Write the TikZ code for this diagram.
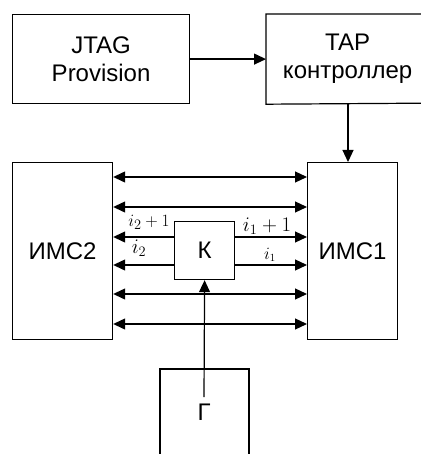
\documentclass[tikz,border=0pt]{standalone}
\usepackage{fontspec}
\setmainfont{Liberation Sans}
\usetikzlibrary{arrows.meta}
\begin{document}
\begin{tikzpicture}[x=1pt,y=-1pt,
  box/.style={draw,line width=1.2pt,anchor=north west,inner sep=0pt,align=center,
    font=\fontsize{24}{28}\selectfont},
  conn/.style={line width=1.2pt,-{Triangle[length=12pt,width=11pt]}},
  biconn/.style={line width=1.2pt,{Triangle[length=12pt,width=11pt]}-{Triangle[length=12pt,width=11pt]}},
  lbl/.style={anchor=base,inner sep=0pt}]
\useasboundingbox (0,0) rectangle (420,454);
\node[box,minimum width=177pt,minimum height=89pt] (jtag) at (12,14) {JTAG\\Provision};
\node[box,draw=none,minimum width=162pt,minimum height=89pt] (tap) at (266,14) {TAP\\контроллер};
\draw[line width=1.2pt] (450,14) -- (tap.north west) -- (tap.south west) -- (450,103);
\node[box,minimum width=100pt,minimum height=177pt] (ims2) at (12,162) {ИМС2};
\node[box,minimum width=90pt,minimum height=177pt] (ims1) at (307,162) {ИМС1};
\node[box,minimum width=60pt,minimum height=58pt] (k) at (174,221) {К};
\node[font=\fontsize{24}{28}\selectfont,inner sep=0pt] (g) at (204,412) {Г};
\draw[line width=1.2pt] (160,470) -- (160,369) -- (249,369) -- (249,470);
\coordinate (gtop) at (204,397);
\draw[conn] (jtag.east) -- (tap.west);
\draw[conn] (tap.south -| 348,0) -- (ims1.north -| 348,0);
\foreach \y in {177,207,294,324}{
  \draw[biconn] (ims2.east |- 0,\y) -- (ims1.west |- 0,\y);
}
\foreach \y in {237,265}{
  \draw[conn] (k.west |- 0,\y) -- (ims2.east |- 0,\y);
  \draw[conn] (k.east |- 0,\y) -- (ims1.west |- 0,\y);
}
\draw[conn] (gtop) -- (k.south);
\node[lbl,font=\fontsize{19}{19}\selectfont] (l1) at (149,226) {$i_2+1$};
\node[lbl,font=\fontsize{20}{20}\selectfont] (l2) at (139,253) {$i_2$};
\node[lbl,font=\fontsize{22}{22}\selectfont] (l3) at (267,231) {$i_1+1$};
\node[lbl,font=\fontsize{16}{16}\selectfont] (l4) at (270,259) {$i_1$};
\end{tikzpicture}
\end{document}
